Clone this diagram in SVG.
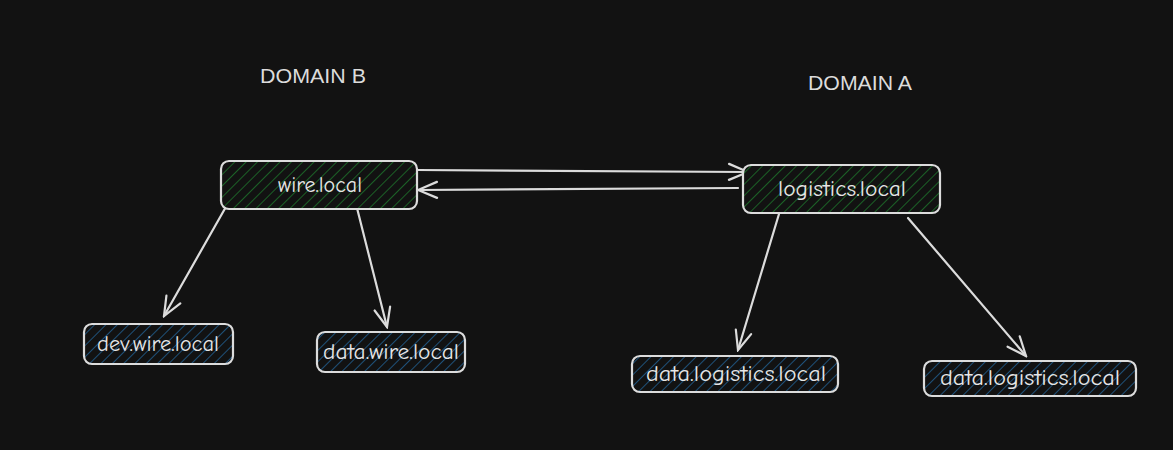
<svg xmlns="http://www.w3.org/2000/svg" width="1173" height="450" viewBox="0 0 1173 450">
<defs>
<pattern id="hg" patternUnits="userSpaceOnUse" width="8" height="8" patternTransform="rotate(45)">
<rect width="8" height="8" fill="#121212"/>
<line x1="0" y1="0" x2="0" y2="8" stroke="#1e7a2c" stroke-width="1.5"/>
</pattern>
<pattern id="hb" patternUnits="userSpaceOnUse" width="8" height="8" patternTransform="rotate(45)">
<rect width="8" height="8" fill="#121212"/>
<line x1="0" y1="0" x2="0" y2="8" stroke="#21649a" stroke-width="1.5"/>
</pattern>
<marker id="ah" viewBox="0 0 24 24" refX="22" refY="12" markerWidth="24" markerHeight="24" markerUnits="userSpaceOnUse" orient="auto">
<path d="M3,4 L22,12 L3,20" fill="none" stroke="#dcdcdc" stroke-width="2.2" stroke-linecap="round"/>
</marker>
</defs>
<style>
.box{stroke:#dcdcdc;stroke-width:2.2;}
.g{fill:url(#hg);}
.b{fill:url(#hb);}
.t{font-family:"Comic Neue","Liberation Sans",sans-serif;font-size:22px;fill:#e6e6e6;text-anchor:middle;dominant-baseline:central;}
.lbl{font-family:"Liberation Sans",sans-serif;font-size:20px;fill:#dcdcdc;text-anchor:middle;dominant-baseline:central;}
.c{stroke:#dcdcdc;stroke-width:2.2;fill:none;stroke-linecap:round;marker-end:url(#ah);}
</style>
<rect width="1173" height="450" fill="#121212"/>
<g id="label-domain-b"><text class="lbl" x="313" y="76" textLength="106" lengthAdjust="spacingAndGlyphs">DOMAIN B</text></g>
<g id="label-domain-a"><text class="lbl" x="860" y="83" textLength="104" lengthAdjust="spacingAndGlyphs">DOMAIN A</text></g>
<g id="connectors">
<path class="c" d="M417,170 L748,172"/>
<path class="c" d="M738,188 L418,190"/>
<path class="c" d="M227,205 L164,316"/>
<path class="c" d="M357,208 L387,327"/>
<path class="c" d="M779,214 L738,350"/>
<path class="c" d="M908,218 L1026,356"/>
</g>
<g id="node-wire"><rect class="box g" x="221" y="161" width="196" height="48" rx="8"/><text class="t" x="320" y="185" textLength="84" lengthAdjust="spacingAndGlyphs">wire.local</text></g>
<g id="node-logistics"><rect class="box g" x="743" y="165" width="197" height="48" rx="8"/><text class="t" x="842" y="189" textLength="128" lengthAdjust="spacingAndGlyphs">logistics.local</text></g>
<g id="node-dev-wire"><rect class="box b" x="84" y="324" width="149" height="40" rx="8"/><text class="t" x="158" y="344" textLength="122" lengthAdjust="spacingAndGlyphs">dev.wire.local</text></g>
<g id="node-data-wire"><rect class="box b" x="317" y="332" width="148" height="40" rx="8"/><text class="t" x="391" y="352" textLength="136" lengthAdjust="spacingAndGlyphs">data.wire.local</text></g>
<g id="node-data-logistics-1"><rect class="box b" x="632" y="356" width="206" height="36" rx="8"/><text class="t" x="736" y="374" textLength="180" lengthAdjust="spacingAndGlyphs">data.logistics.local</text></g>
<g id="node-data-logistics-2"><rect class="box b" x="924" y="361" width="212" height="35" rx="8"/><text class="t" x="1030" y="378" textLength="180" lengthAdjust="spacingAndGlyphs">data.logistics.local</text></g>
</svg>
